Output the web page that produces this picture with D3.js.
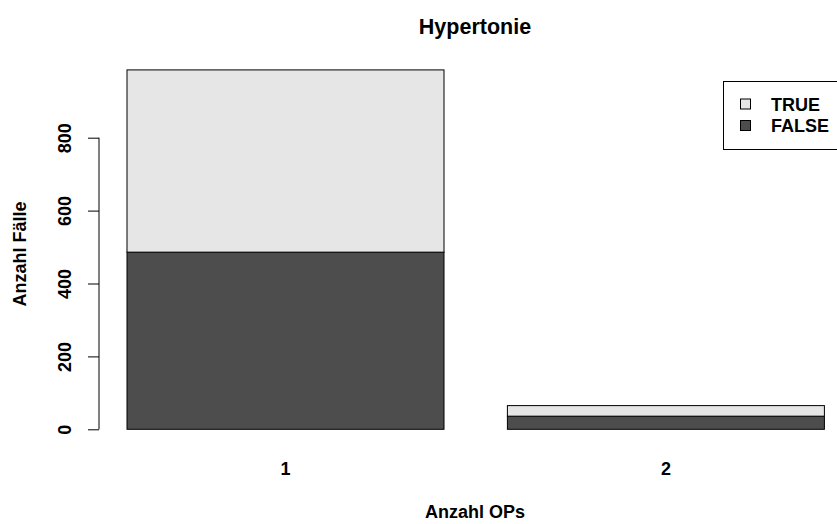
<!DOCTYPE html>
<html><head><meta charset="utf-8">
<script src="https://cdn.jsdelivr.net/npm/d3@7"></script>
<style>body{margin:0;background:#fff}svg{display:block}text{font-family:"Liberation Sans",Arial,sans-serif;font-weight:bold;fill:#000}</style>
</head><body>
<script>
const categories = ["1", "2"];
const seriesNames = ["FALSE", "TRUE"];
const falseValues = [486, 36];
const trueValues = [500, 29];
const yTicks = [0, 200, 400, 600, 800];
const legendLabels = ["TRUE", "FALSE"];
const colors = {FALSE: "#4d4d4d", TRUE: "#e6e6e6"};

const W = 837, H = 524;
const svg = d3.select("body").append("svg").attr("width", W).attr("height", H);

// R barplot positions: width 1, space 0.2
const barLeft = categories.map((c, i) => 0.2 + i * 1.2);
const x = d3.scaleLinear().domain([0.2, 1.2]).range([127, 444]);
const y = d3.scaleLinear().domain([0, 800]).range([429.3, 137.7]);

const data = categories.map((c, i) => ({cat: c, FALSE: falseValues[i], TRUE: trueValues[i], left: barLeft[i]}));
const stack = d3.stack().keys(seriesNames)(data);

svg.append("g").selectAll("g").data(stack).join("g")
  .attr("fill", d => colors[d.key])
  .selectAll("rect").data(d => d).join("rect")
  .attr("x", d => x(d.data.left))
  .attr("width", d => x(d.data.left + 1) - x(d.data.left))
  .attr("y", d => y(d[1]))
  .attr("height", d => y(d[0]) - y(d[1]))
  .attr("stroke", "#000").attr("stroke-width", 1);

// y axis
const yAxis = d3.axisLeft(y).tickValues(yTicks).tickSize(11).tickPadding(4);
const gy = svg.append("g").attr("transform", "translate(99,0)").call(yAxis);
gy.select(".domain").attr("d", `M-0,${y(0)}V${y(800)}`).attr("stroke", "#000");
gy.selectAll(".tick line").attr("stroke", "#000");
gy.selectAll(".tick text")
  .attr("font-size", 18).attr("font-family", '"Liberation Sans",Arial,sans-serif').attr("font-weight", "bold")
  .attr("fill", "#000")
  .attr("x", 0).attr("dy", 0)
  .attr("text-anchor", "middle")
  .attr("transform", "translate(-28.5,0) rotate(-90)");

// x category labels
svg.append("g").selectAll("text").data(data).join("text")
  .attr("x", d => x(d.left + 0.5)).attr("y", 475)
  .attr("text-anchor", "middle").attr("font-size", 18)
  .text(d => d.cat);

// title and axis labels
svg.append("text").attr("x", 475).attr("y", 34).attr("text-anchor", "middle").attr("font-size", 21.5).text("Hypertonie");
svg.append("text").attr("x", 475).attr("y", 518).attr("text-anchor", "middle").attr("font-size", 18).text("Anzahl OPs");
svg.append("text").attr("transform", "translate(26,254) rotate(-90)").attr("text-anchor", "middle").attr("font-size", 18).text("Anzahl Fälle");

// legend
const lg = svg.append("g");
lg.append("rect").attr("x", 723.5).attr("y", 81.5).attr("width", 130).attr("height", 68).attr("fill", "#fff").attr("stroke", "#000");
legendLabels.forEach((k, i) => {
  const cy = 104 + i * 21.5;
  lg.append("rect").attr("x", 740.5).attr("y", cy - 5).attr("width", 10).attr("height", 10).attr("fill", colors[k]).attr("stroke", "#000");
  lg.append("text").attr("x", 771).attr("y", cy + 6.5).attr("font-size", 18).text(k);
});
</script>
</body></html>
